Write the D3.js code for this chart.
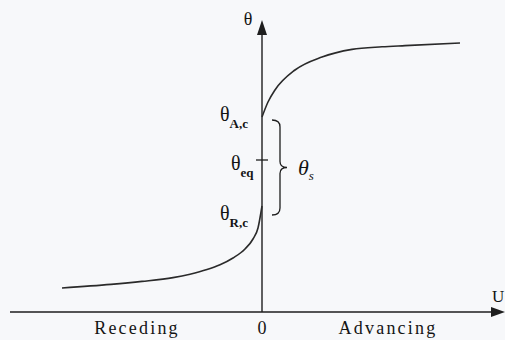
<!DOCTYPE html>
<html>
<head>
<meta charset="utf-8">
<script src="https://cdn.jsdelivr.net/npm/d3@7"></script>
<style>
  html, body { margin: 0; padding: 0; background: #f7f8fa; }
  svg { display: block; }
  text { font-family: "Liberation Serif", "Times New Roman", serif; fill: #141414; }
</style>
</head>
<body>
<svg id="chart" width="505" height="340"></svg>
<script>
// Contact angle θ versus contact-line velocity U (receding < 0 < advancing)
const recedingU     = [-1.0, -0.755, -0.6, -0.445, -0.36, -0.275, -0.21, -0.145, -0.085, -0.045, -0.02, 0];
const recedingTheta = [12, 13.8, 15.3, 17.2, 18.9, 21.2, 23.6, 27, 31.5, 36.5, 42, 53];
const advancingU     = [0, 0.03, 0.065, 0.165, 0.30, 0.45, 0.6, 0.715, 0.99];
const advancingTheta = [97.5, 105, 111, 121, 127.5, 131.3, 132.6, 133.2, 134.5];

// Characteristic angles on the θ axis
const thetaAc = 97.5;   // critical advancing angle
const thetaEq = 76;     // equilibrium angle
const thetaRc = 53;     // critical receding angle

const xLabels = [
  { u: -0.625, text: "Receding" },
  { u: 0,      text: "0" },
  { u: 0.63,   text: "Advancing" }
];

const svg = d3.select("#chart");
const x = d3.scaleLinear().domain([-1, 1]).range([62, 462]);
const y = d3.scaleLinear().domain([0, 150]).range([312, 12]);

const ink = "#1e1e1e";

// Horizontal U axis with arrowhead
svg.append("line")
  .attr("x1", 10).attr("x2", 496)
  .attr("y1", y(0)).attr("y2", y(0))
  .attr("stroke", ink).attr("stroke-width", 1.4);
svg.append("path")
  .attr("d", `M505,${y(0)} L491,${y(0) - 5} L491,${y(0) + 5} Z`)
  .attr("fill", ink);

// Vertical θ axis with arrowhead
svg.append("line")
  .attr("x1", x(0)).attr("x2", x(0))
  .attr("y1", y(0)).attr("y2", 30)
  .attr("stroke", ink).attr("stroke-width", 1.4);
svg.append("path")
  .attr("d", `M${x(0)},20 L${x(0) + 5},35 L${x(0) - 5},35 Z`)
  .attr("fill", ink);

// Equilibrium tick
svg.append("line")
  .attr("x1", x(0) - 6).attr("x2", x(0) + 6)
  .attr("y1", y(thetaEq)).attr("y2", y(thetaEq))
  .attr("stroke", ink).attr("stroke-width", 1.3);

// Curves
const line = d3.line()
  .x(d => x(d[0])).y(d => y(d[1]))
  .curve(d3.curveMonotoneX);

svg.append("path")
  .datum(d3.zip(recedingU, recedingTheta))
  .attr("d", line)
  .attr("fill", "none").attr("stroke", "#2a2a2a").attr("stroke-width", 1.6);

svg.append("path")
  .datum(d3.zip(advancingU, advancingTheta))
  .attr("d", line)
  .attr("fill", "none").attr("stroke", "#2a2a2a").attr("stroke-width", 1.6);

// Curly brace spanning the static hysteresis range
const bTop = y(thetaAc) + 3, bBot = y(thetaRc) + 9;
const bMid = (bTop + bBot) / 2;
const bx = x(0) + 18, bl = x(0) + 10, bt = x(0) + 25;
const brace = d3.path();
brace.moveTo(bl, bTop);
brace.quadraticCurveTo(bx, bTop, bx, bTop + 7);
brace.lineTo(bx, bMid - 6);
brace.quadraticCurveTo(bx, bMid, bt, bMid);
brace.quadraticCurveTo(bx, bMid, bx, bMid + 6);
brace.lineTo(bx, bBot - 7);
brace.quadraticCurveTo(bx, bBot, bl, bBot);
svg.append("path").attr("d", brace.toString())
  .attr("fill", "none").attr("stroke", ink).attr("stroke-width", 1.3);

// Angle labels with subscripts
function angleLabel(xl, yc, sub, opts = {}) {
  const t = svg.append("text")
    .attr("x", xl).attr("y", yc + 6)
    .attr("font-size", opts.size || 20)
    .attr("font-style", opts.italic ? "italic" : "normal");
  t.append("tspan").text("θ");
  t.append("tspan").text(sub)
    .attr("font-size", opts.subSize || 13)
    .attr("font-weight", opts.italic ? "normal" : "bold")
    .attr("dy", opts.subDy || 7);
  return t;
}
angleLabel(220, y(thetaAc) - 2, "A,c");
angleLabel(231, y(thetaEq) + 4, "eq");
angleLabel(220, y(thetaRc) + 8, "R,c");
angleLabel(298, bMid + 1, "s", { italic: true, size: 22, subSize: 13, subDy: 5 });

// Axis titles
svg.append("text").attr("x", 248).attr("y", 25)
  .attr("text-anchor", "middle").attr("font-size", 18).text("θ");
svg.append("text").attr("x", 492).attr("y", 302)
  .attr("font-size", 17).text("U");

// Velocity labels under the axis
svg.selectAll("text.xl").data(xLabels).join("text")
  .attr("class", "xl")
  .attr("x", d => x(d.u)).attr("y", 334)
  .attr("text-anchor", "middle")
  .attr("font-size", 18)
  .attr("letter-spacing", d => d.text.length > 1 ? 2.2 : 0)
  .text(d => d.text);
</script>
</body>
</html>
